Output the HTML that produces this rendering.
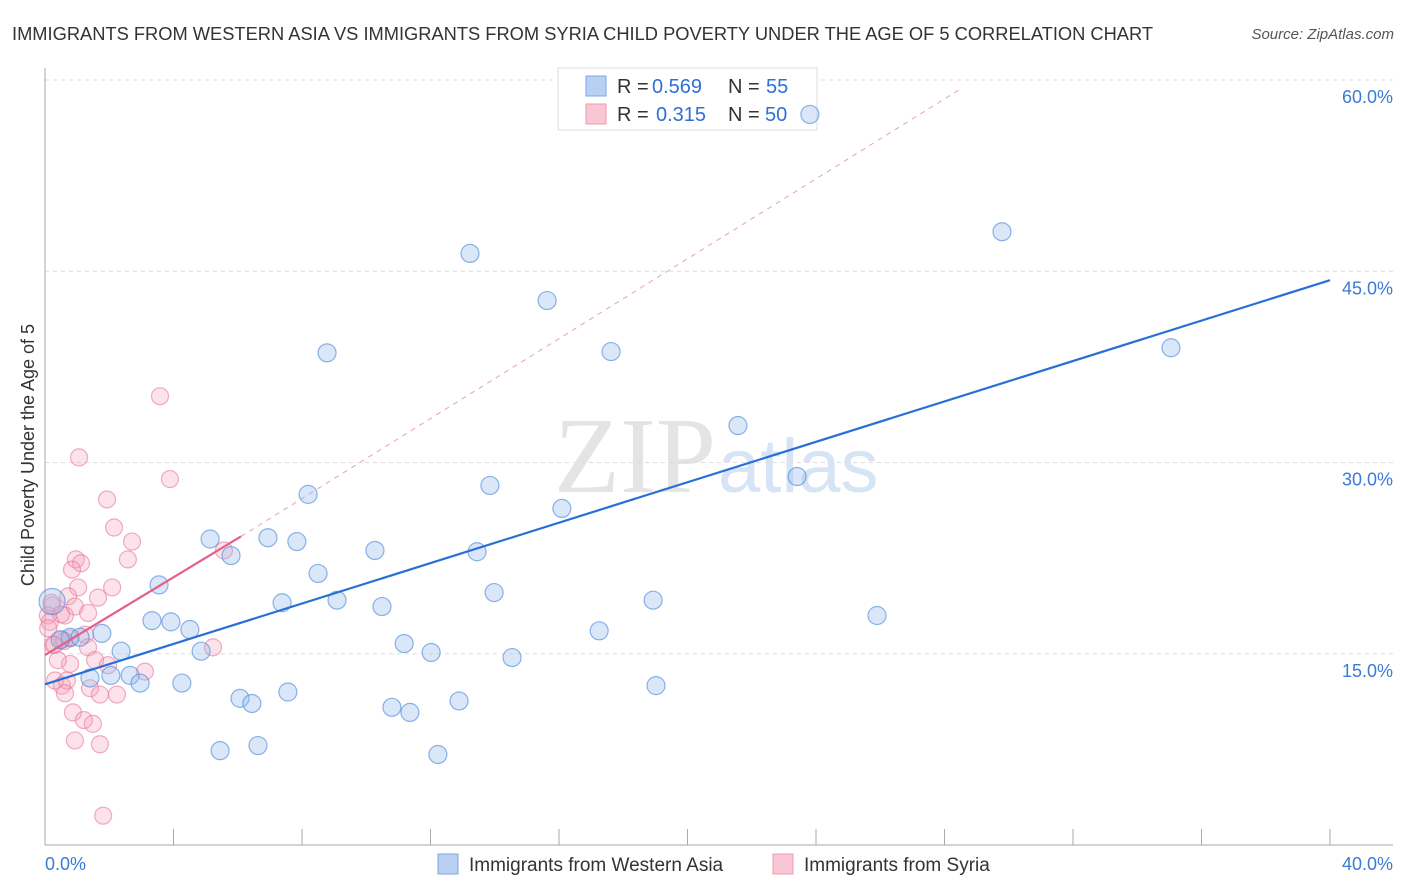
<!DOCTYPE html>
<html><head><meta charset="utf-8"><style>
body{margin:0;background:#fff;font-family:"Liberation Sans",sans-serif;}
svg{display:block}
</style></head><body>
<svg width="1406" height="892" id="chart">
<text x="12" y="40" font-size="18.3" fill="#333">IMMIGRANTS FROM WESTERN ASIA VS IMMIGRANTS FROM SYRIA CHILD POVERTY UNDER THE AGE OF 5 CORRELATION CHART</text>
<text x="1394" y="39" font-size="15" fill="#555" font-style="italic" text-anchor="end">Source: ZipAtlas.com</text>
<text x="716" y="492" font-size="108" fill="#e4e4e4" font-family="Liberation Serif,serif" text-anchor="end">ZIP</text>
<text x="718" y="492" font-size="76" fill="#d6e4f5">atlas</text>
<text transform="translate(34,455) rotate(-90)" font-size="18" fill="#333" text-anchor="middle">Child Poverty Under the Age of 5</text>
<g id="grid"></g>
<g>
<rect x="558" y="68" width="259" height="62" fill="#fff" stroke="#ddd"/>
<rect x="586" y="76" width="20" height="20" fill="#b9d0f2" stroke="#7aa6e6"/>
<rect x="586" y="104" width="20" height="20" fill="#f9c6d4" stroke="#ee9bb3"/>
<text x="617" y="93" font-size="20" fill="#333">R =</text>
<text x="652" y="93" font-size="20" fill="#2f6fd6">0.569</text>
<text x="728" y="93" font-size="20" fill="#333">N =</text>
<text x="766" y="93" font-size="20" fill="#2f6fd6">55</text>
<text x="617" y="121" font-size="20" fill="#333">R =</text>
<text x="656" y="121" font-size="20" fill="#2f6fd6">0.315</text>
<text x="728" y="121" font-size="20" fill="#333">N =</text>
<text x="765" y="121" font-size="20" fill="#2f6fd6">50</text>
</g>
<g id="marks"></g>
<g>
<rect x="438" y="854" width="20" height="20" fill="#b9d0f2" stroke="#7aa6e6"/>
<text x="469" y="871" font-size="19" fill="#333">Immigrants from Western Asia</text>
<rect x="773" y="854" width="20" height="20" fill="#f9c6d4" stroke="#ee9bb3"/>
<text x="804" y="871" font-size="19" fill="#333">Immigrants from Syria</text>
</g>
</svg>
<script>
const blueX=[23.81,29.79,13.23,15.63,8.78,17.62,35.05,21.57,23.41,13.85,8.19,16.09,5.14,6.94,7.84,5.79,10.27,13.45,8.50,3.55,13.98,7.38,9.09,10.49,18.93,25.90,3.33,3.92,4.51,17.25,11.18,1.77,0.78,1.09,0.47,2.37,4.86,12.02,14.54,1.40,2.05,2.65,2.96,4.26,19.02,7.56,6.07,6.44,12.89,10.80,11.36,5.45,6.63,12.23,0.22];
const blueY=[57.3,48.1,46.4,42.7,38.6,38.7,39.0,32.9,28.9,28.2,27.5,26.4,24.0,24.1,23.8,22.7,23.1,23.0,21.3,20.4,19.8,19.0,19.2,18.7,19.2,18.0,17.6,17.5,16.9,16.8,15.8,16.6,16.3,16.3,16.1,15.2,15.2,15.1,14.7,13.1,13.3,13.3,12.7,12.7,12.5,12.0,11.5,11.1,11.3,10.8,10.4,7.4,7.8,7.1,19.1];
const pinkX=[3.58,1.06,3.89,1.93,2.15,2.71,5.57,0.96,1.12,0.84,2.58,2.09,1.03,0.72,1.65,0.93,1.34,0.62,0.22,0.09,0.53,1.25,0.78,0.25,1.34,1.56,0.78,1.96,0.40,3.11,5.23,0.31,0.53,0.68,1.40,0.62,1.71,2.24,0.87,1.21,1.49,0.93,1.71,1.81,0.3,0.15,0.2,0.5,0.1,0.6];
const pinkY=[35.2,30.4,28.7,27.1,24.9,23.8,23.1,22.4,22.1,21.6,22.4,20.2,20.2,19.5,19.4,18.7,18.2,18.0,18.8,18.0,16.1,16.5,16.2,15.7,15.5,14.5,14.2,14.1,14.5,13.6,15.5,12.9,12.5,12.9,12.3,11.9,11.8,11.8,10.4,9.8,9.5,8.2,7.9,2.3,15.7,17.5,19.0,18.1,17.0,16.0];
const blueTrendX=[0,40], blueTrendY=[12.6,44.3];
const pinkTrendX=[0,6.1], pinkTrendY=[14.9,24.2];
const pinkDashX=[6.1,28.5], pinkDashY=[24.2,59.3];
const yTicks=[15,30,45,60], yTickLabels=["15.0%","30.0%","45.0%","60.0%"];
const xTicks=[0,4,8,12,16,20,24,28,32,36,40];
const sx=v=>45+v*32.125, sy=v=>845-v*12.75;
const NS="http://www.w3.org/2000/svg";
const grid=document.getElementById('grid'), marks=document.getElementById('marks');
function mk(tag,attrs,parent){const e=document.createElementNS(NS,tag);for(const k in attrs)e.setAttribute(k,attrs[k]);parent.appendChild(e);return e;}
yTicks.forEach((t,i)=>{
 const l=mk('line',{x1:45,x2:1393,y1:sy(t),y2:sy(t),stroke:'#ddd','stroke-dasharray':'4,4'},grid);
 
 
 const tx=mk('text',{x:1393,y:sy(t)+23,'font-size':18,fill:'#3a7bd5','text-anchor':'end'},grid);
 tx.textContent=yTickLabels[i];
 
 
});
const ax=mk('line',{x1:45,x2:45,y1:68,y2:845,stroke:'#aaa'},grid);


const bx=mk('line',{x1:45,x2:1393,y1:845,y2:845,stroke:'#aaa'},grid);


xTicks.forEach(t=>{const l=mk('line',{x1:sx(t),x2:sx(t),y1:829,y2:845,stroke:'#aaa'},grid);
 
 });
const x0=mk('text',{x:45,y:870,'font-size':18,fill:'#3a7bd5'},grid);x0.textContent='0.0%';


const x1=mk('text',{x:1393,y:870,'font-size':18,fill:'#3a7bd5','text-anchor':'end'},grid);x1.textContent='40.0%';


pinkX.forEach((v,i)=>{const c=mk('circle',{cx:sx(v),cy:sy(pinkY[i]),r:8.5,fill:'rgba(245,160,185,0.3)',stroke:'rgba(232,120,155,0.6)','stroke-width':1.2},marks);
 
 });
blueX.forEach((v,i)=>{const r=i==blueX.length-1?13:9;const c=mk('circle',{cx:sx(v),cy:sy(blueY[i]),r:r,fill:'rgba(150,185,235,0.35)',stroke:'rgba(80,140,220,0.65)','stroke-width':1.2},marks);
 
 });
const pd=mk('line',{x1:sx(pinkDashX[0]),y1:sy(pinkDashY[0]),x2:sx(pinkDashX[1]),y2:sy(pinkDashY[1]),stroke:'#e8a0b5','stroke-dasharray':'5,5','stroke-width':1},grid);


const pt=mk('line',{x1:sx(pinkTrendX[0]),y1:sy(pinkTrendY[0]),x2:sx(pinkTrendX[1]),y2:sy(pinkTrendY[1]),stroke:'#e4608a','stroke-width':2.2},marks);


const bt=mk('line',{x1:sx(blueTrendX[0]),y1:sy(blueTrendY[0]),x2:sx(blueTrendX[1]),y2:sy(blueTrendY[1]),stroke:'#2a6fd6','stroke-width':2.2},marks);


</script>
</body></html>
